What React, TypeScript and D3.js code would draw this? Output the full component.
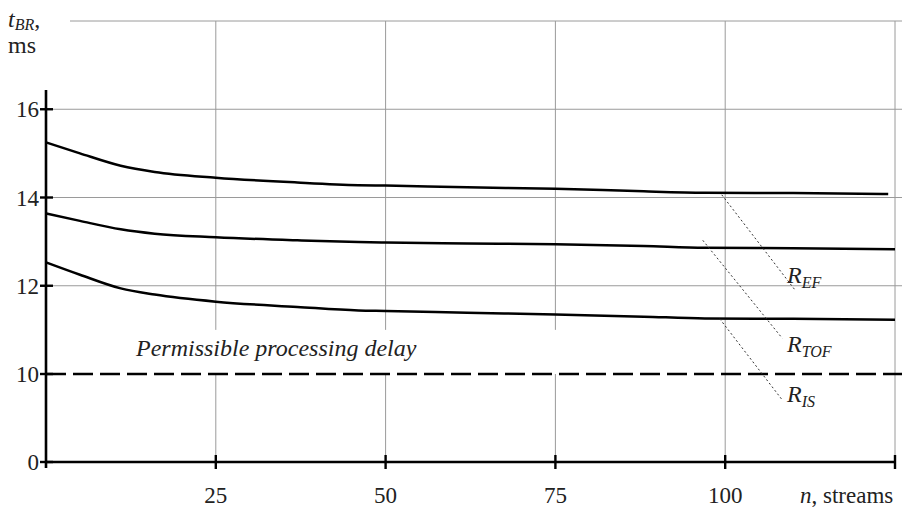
import React from 'react';
import * as d3 from 'd3';

// streams count (x) and processing time t_BR, ms (y)
const nValues = [0, 5, 11, 16, 25, 37, 46, 50, 62, 75, 88, 97, 110, 125];
const efValues = [15.25, 15.0, 14.72, 14.58, 14.45, 14.34, 14.28, 14.27, 14.23, 14.2, 14.14, 14.11, 14.1, 14.08];
const tofValues = [13.64, 13.47, 13.28, 13.18, 13.1, 13.03, 12.99, 12.98, 12.96, 12.94, 12.9, 12.86, 12.85, 12.83];
const isValues = [12.53, 12.25, 11.94, 11.8, 11.64, 11.52, 11.44, 11.43, 11.39, 11.35, 11.3, 11.26, 11.25, 11.23];

const xTicks = [25, 50, 75, 100];
const yTicks = [0, 10, 12, 14, 16];
const permissibleDelay = 10;

// labels of the curves: [name, subscript, leader start n, start t, leader end n, end t, label n, label t]
const curveLabels: [string, string, number, number, number, number, number, number][] = [
  ['R', 'EF', 99.5, 14.06, 110.3, 11.9, 109.1, 12.06],
  ['R', 'TOF', 96.7, 13.03, 108.4, 10.81, 109.1, 10.5],
  ['R', 'IS', 99.2, 11.25, 108.4, 7.05, 109.1, 6.8],
];

const W = 902;
const H = 508;
const serif = { fontFamily: "'Liberation Serif', Tinos, 'Times New Roman', Times, 'DejaVu Serif', serif" };

const App = () => {
  const x = d3.scaleLinear().domain([0, 125]).range([46, 895]);
  // broken axis: 0..10 squeezed, 10..18 linear
  const y = d3.scaleLinear().domain([0, 10, 18]).range([462, 374, 21]);

  const line = d3
    .line<number>()
    .x((_, i) => x(nValues[i]))
    .y((d) => y(d))
    .curve(d3.curveMonotoneX);

  const efLine = d3
    .line<number>()
    .x((_, i) => x(i === nValues.length - 1 ? 124 : nValues[i]))
    .y((d) => y(d))
    .curve(d3.curveMonotoneX);

  const gridColor = '#9a9a9a';
  const textColor = '#222';

  return (
    <svg width={W} height={H} style={{ position: 'absolute', left: 0, top: 0, background: '#fff' }}>
      {/* horizontal grid */}
      <line x1={70} x2={W} y1={y(18)} y2={y(18)} stroke={gridColor} strokeWidth={1} />
      {[12, 14, 16].map((v) => (
        <line key={v} x1={x(0)} x2={W} y1={y(v)} y2={y(v)} stroke={gridColor} strokeWidth={1} />
      ))}
      {/* vertical grid */}
      {[25, 50, 75].map((v) => (
        <g key={v}>
          <line x1={x(v)} x2={x(v)} y1={y(18)} y2={y(11)} stroke={gridColor} strokeWidth={1} />
          <line x1={x(v)} x2={x(v)} y1={y(10)} y2={y(0)} stroke={gridColor} strokeWidth={1} />
        </g>
      ))}
      {[100, 125].map((v) => (
        <line key={v} x1={x(v)} x2={x(v)} y1={y(18)} y2={y(0)} stroke={gridColor} strokeWidth={1} />
      ))}

      {/* permissible delay */}
      <line
        x1={x(0)}
        x2={W}
        y1={y(permissibleDelay)}
        y2={y(permissibleDelay)}
        stroke="#000"
        strokeWidth={2.6}
        strokeDasharray="20,7"
      />
      <text x={136} y={y(permissibleDelay) - 18} style={serif} fontStyle="italic" fontSize={24} fill={textColor}>
        Permissible processing delay
      </text>

      {/* curves */}
      <path d={efLine(efValues) ?? ''} fill="none" stroke="#000" strokeWidth={2.5} />
      <path d={line(tofValues) ?? ''} fill="none" stroke="#000" strokeWidth={2.5} />
      <path d={line(isValues) ?? ''} fill="none" stroke="#000" strokeWidth={2.5} />

      {/* curve labels */}
      {curveLabels.map(([name, sub, n1, t1, n2, t2, nl, tl]) => (
        <g key={sub}>
          <line
            x1={x(n1)}
            y1={y(t1)}
            x2={x(n2)}
            y2={y(t2)}
            stroke="#333"
            strokeWidth={1}
            strokeDasharray="2,2.5"
          />
          <text x={x(nl)} y={y(tl)} style={serif} fontStyle="italic" fontSize={24} fill={textColor}>
            {name}
            <tspan fontSize={16} dy={5}>
              {sub}
            </tspan>
          </text>
        </g>
      ))}

      {/* axes */}
      <line x1={x(0)} x2={x(0)} y1={90} y2={y(0) + 6} stroke="#000" strokeWidth={2.6} />
      <line x1={x(0)} x2={x(125)} y1={y(0)} y2={y(0)} stroke="#000" strokeWidth={2.6} />
      {yTicks.map((v) => (
        <g key={v}>
          <line x1={x(0) - 6} x2={x(0) + 7} y1={y(v)} y2={y(v)} stroke="#000" strokeWidth={2.4} />
          <text x={x(0) - 7} y={y(v) + 8} textAnchor="end" style={serif} fontSize={23} fill={textColor}>
            {v}
          </text>
        </g>
      ))}
      {[...xTicks, 125].map((v) => (
        <line key={v} x1={x(v)} x2={x(v)} y1={y(0) - 7} y2={y(0) + 7} stroke="#000" strokeWidth={2.4} />
      ))}
      {xTicks.map((v) => (
        <text key={v} x={x(v)} y={503} textAnchor="middle" style={serif} fontSize={23} fill={textColor}>
          {v}
        </text>
      ))}
      <text x={800} y={503} style={serif} fontSize={23} fill={textColor}>
        <tspan fontStyle="italic">n</tspan>, streams
      </text>

      {/* y axis title */}
      <text x={8} y={27} style={serif} fontSize={24} fill={textColor}>
        <tspan fontStyle="italic">t</tspan>
        <tspan fontStyle="italic" fontSize={16} dy={3}>
          BR
        </tspan>
        <tspan dy={-3}>,</tspan>
      </text>
      <text x={8} y={53} style={serif} fontSize={24} fill={textColor}>
        ms
      </text>
    </svg>
  );
};

export default App;
